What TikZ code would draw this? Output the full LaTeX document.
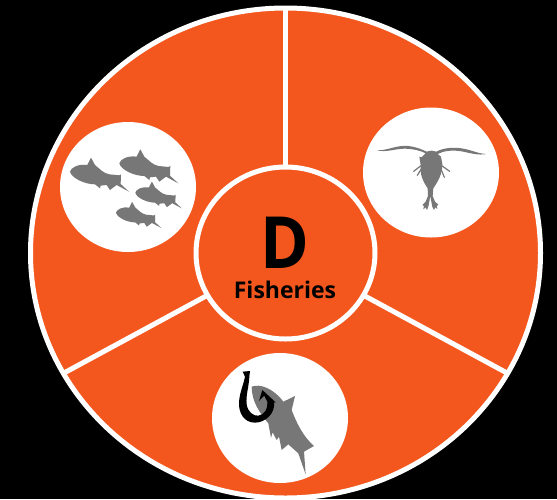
\documentclass[tikz,border=0pt]{standalone}
\usepackage{fontspec}
\setmainfont{Open Sans}
\definecolor{fishorange}{HTML}{F4571E}
\definecolor{fishgrey}{HTML}{777777}
\newcommand{\fishshape}{(0,0) .. controls (2,-12) and (25,-24) .. (52,-20) -- (63,-42) -- (75,-20) .. controls (90,-8) and (100,5) .. (118,8) -- (148,11) -- (153,8) -- (152,37) -- (177,60) -- (140,40) -- (120,55) -- (110,40) -- (92,42) -- (90,50) -- (75,38) .. controls (45,38) and (5,20) .. (0,0) -- cycle}
\tikzset{
  ring/.style={draw=white,line width=5pt},
  divider/.style={draw=white,line width=5pt},
  spot/.style={fill=white},
  silhouette/.style={fill=fishgrey},
  limb/.style={draw=fishgrey,line width=1.2pt,line cap=round}
}
\begin{document}
\begin{tikzpicture}[x=1pt,y=-1pt]
\useasboundingbox (0,0) rectangle (557,499);
\fill[black] (0,0) rectangle (557,499);
\begin{scope}
\clip (0,0) rectangle (557,499);
\coordinate (ctr) at (285.5,253);
\coordinate (topend) at (285.5,8);
\coordinate (leftend) at (64,373);
\coordinate (rightend) at (507,373);
\filldraw[fill=fishorange,ring] (ctr) ellipse [x radius=255,y radius=245];
\draw[divider] (ctr) -- (topend);
\draw[divider] (ctr) -- (leftend);
\draw[divider] (ctr) -- (rightend);
\filldraw[fill=fishorange,ring] (ctr) ellipse [x radius=89.5,y radius=86];
\end{scope}
\fill[spot] (128,187) ellipse [x radius=68,y radius=65];
\fill[spot] (431,172.5) ellipse [x radius=68,y radius=65];
\fill[spot] (280,418) ellipse [x radius=68,y radius=65];
% fish school
\begin{scope}[shift={(50,110)},x=0.3333pt,y=-0.3333pt]
\fill[silhouette,shift={(60,185)}] \fishshape;
\fill[silhouette,shift={(208,160)}] \fishshape;
\fill[silhouette,shift={(256,248)},scale=0.79] \fishshape;
\fill[silhouette,shift={(198,308)},scale=0.77] \fishshape;
\end{scope}
% copepod
\begin{scope}[shift={(355,100)},x=0.3333pt,y=-0.3333pt]
\fill[silhouette] (65,151) .. controls (100,152) and (120,135) .. (160,138) .. controls (185,141) and (205,150) .. (215,155) .. controls (228,151) and (235,151) .. (244,155) .. controls (265,143) and (300,140) .. (330,147) .. controls (350,151) and (375,162) .. (393,162) .. controls (370,167) and (345,159) .. (320,154) .. controls (290,149) and (265,153) .. (248,162) -- (258,170) -- (262,192) .. controls (262,225) and (248,245) .. (235,265) -- (233,288) -- (240,305) -- (250,314) -- (245,318) -- (247,327) -- (241,322) -- (237,330) -- (232,320) -- (230,310) -- (226,288) -- (222,310) -- (220,320) -- (216,330) -- (212,322) -- (205,328) -- (207,318) -- (202,315) -- (212,305) -- (219,288) -- (218,265) .. controls (205,245) and (194,225) .. (197,195) -- (193,170) -- (200,172) -- (212,160) .. controls (195,151) and (175,147) .. (150,146) .. controls (120,146) and (95,158) .. (65,151) -- cycle;
\draw[limb] (198,197) -- (176,214);
\draw[limb] (200,205) -- (187,226);
\draw[limb] (260,197) -- (284,214);
\draw[limb] (258,207) -- (268,232);
\end{scope}
% hooked fish
\begin{scope}[shift={(205,345)},x=0.3333pt,y=-0.3333pt]
\fill[silhouette] (140,125) .. controls (165,115) and (205,130) .. (235,170) -- (270,153) -- (260,195) .. controls (275,235) and (295,275) .. (327,303) -- (297,320) -- (302,388) -- (280,325) -- (250,298) -- (230,315) -- (222,275) -- (215,285) -- (203,262) -- (198,278) -- (190,235) .. controls (165,205) and (140,170) .. (140,125) -- cycle;
\fill[black] (113,80) -- (135,78) -- (133,95) .. controls (132,125) and (122,150) .. (125,178) .. controls (128,200) and (145,214) .. (160,212) .. controls (178,210) and (190,190) .. (187,170) -- (178,152) -- (162,168) -- (172,135) -- (212,172) -- (207,172) .. controls (212,205) and (180,233) .. (150,233) .. controls (118,233) and (100,205) .. (102,170) .. controls (105,140) and (115,120) .. (120,95) -- cycle;
\end{scope}
\node[font=\bfseries,xscale=6.6,yscale=7.2] (letter) at (285,242.5) {D};
\node[font=\bfseries,scale=2.3] (label) at (285,290) {Fisheries};
\end{tikzpicture}
\end{document}
